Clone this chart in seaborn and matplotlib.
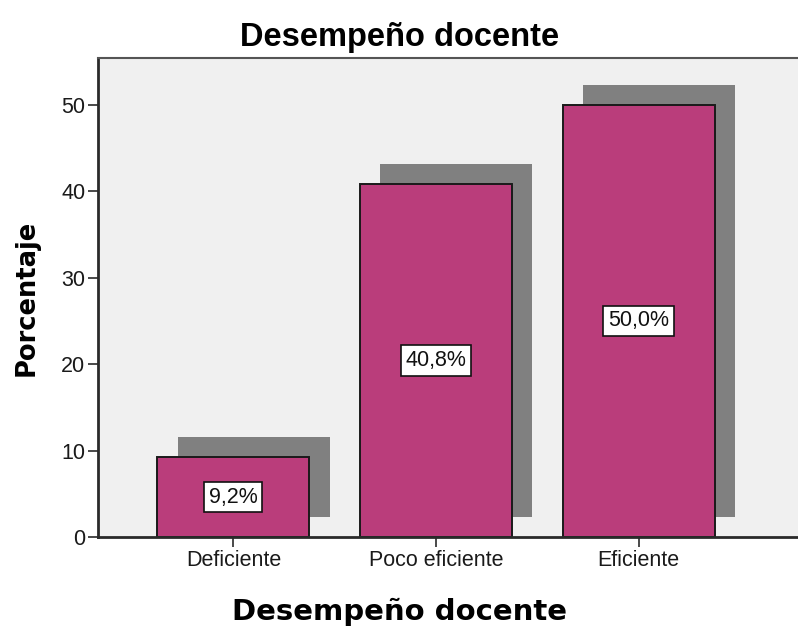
import matplotlib
matplotlib.use("Agg")
import matplotlib.pyplot as plt
import matplotlib.patheffects as pe
import seaborn as sns
import pandas as pd

categorias = ["Deficiente", "Poco eficiente", "Eficiente"]
porcentajes = [9.2, 40.8, 50.0]
etiquetas = ["9,2%", "40,8%", "50,0%"]

sns.set_theme(style="white")
plt.rcParams["font.family"] = ["Liberation Sans", "DejaVu Sans"]
plt.rcParams["text.color"] = "black"

df = pd.DataFrame({"cat": categorias, "pct": porcentajes})

fig = plt.figure(figsize=(7.98, 6.28), dpi=100)
ax = fig.add_axes([0.1228, 0.1449, 0.8800, 0.7627])
ax.set_facecolor("#F0F0F0")

sns.barplot(data=df, x="cat", y="pct", color="#BA3D7B", saturation=1,
            width=0.75, edgecolor="#1A1A1A", linewidth=1.4, ax=ax)

# sombra gris estilo SPSS
for p in ax.patches:
    p.set_path_effects([pe.SimplePatchShadow(offset=(14.5, 14.5),
                                             shadow_rgbFace="#808080", alpha=1.0),
                        pe.Normal()])

# etiquetas en el centro de cada barra
for i, (v, t) in enumerate(zip(porcentajes, etiquetas)):
    ax.text(i, v / 2, t, ha="center", va="center", fontsize=15.5, color="#111111",
            bbox=dict(boxstyle="square,pad=0.22", facecolor="white",
                      edgecolor="#111111", linewidth=1.2), zorder=5)

ax.set_ylim(0, 55.4)
ax.set_xlim(-0.668, 2.797)
ax.set_yticks([0, 10, 20, 30, 40, 50])

for s in ["left", "bottom"]:
    ax.spines[s].set_color("#2A2A2A")
    ax.spines[s].set_linewidth(2)
ax.spines["top"].set_color("#555555")
ax.spines["top"].set_linewidth(1.5)
ax.spines["right"].set_visible(False)

ax.tick_params(axis="both", which="major", direction="out", length=7, width=1.2,
               color="#2A2A2A", labelsize=15.5, labelcolor="#1A1A1A",
               left=True, bottom=True, pad=2)

ax.set_title("Desempeño docente", fontsize=23.5, fontweight="bold", x=0.43,
             pad=9, color="black")
ax.set_xlabel("Desempeño docente", fontsize=21, fontweight="bold", x=0.43,
              family=["DejaVu Sans"], labelpad=20, color="black")
ax.set_ylabel("Porcentaje", fontsize=18.5, fontweight="bold",
              family=["DejaVu Sans"], labelpad=16, color="black")

fig.savefig("out.png", dpi=100)
